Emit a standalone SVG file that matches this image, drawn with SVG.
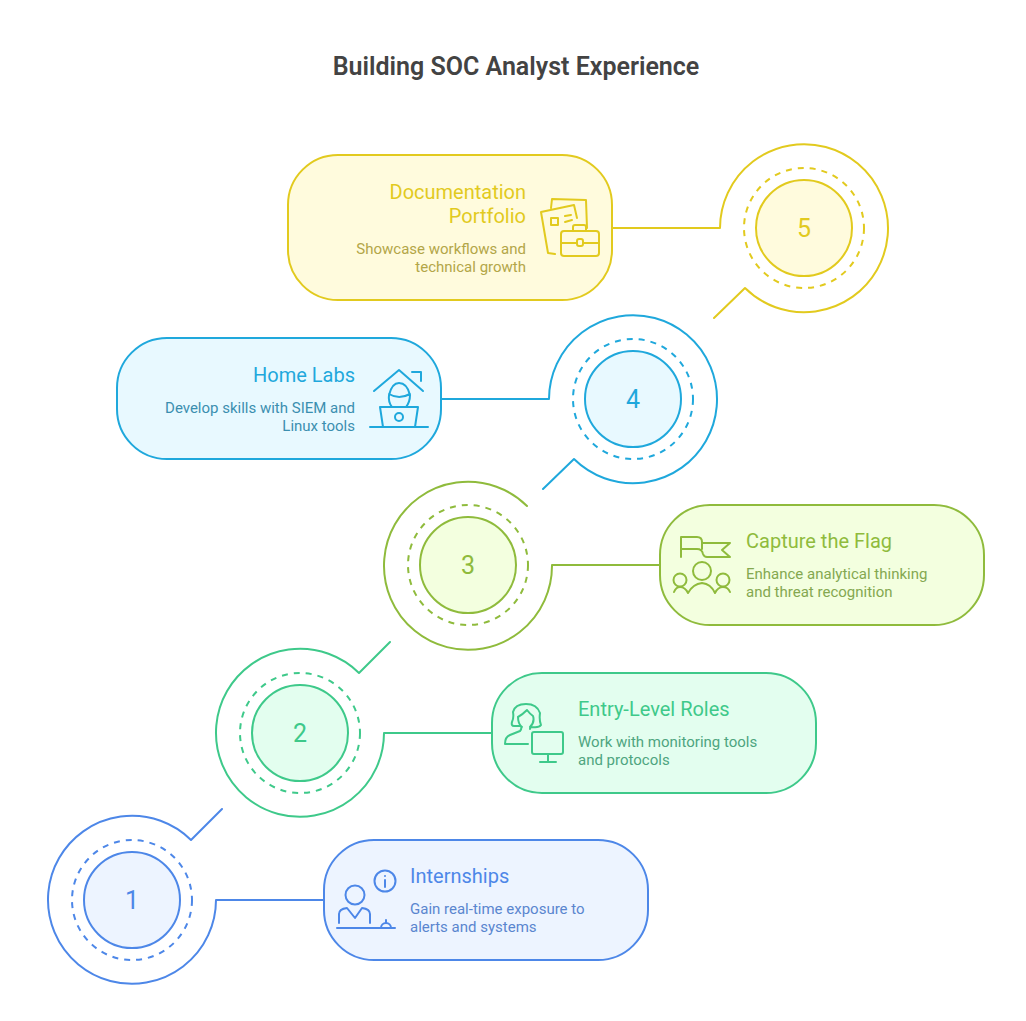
<svg xmlns="http://www.w3.org/2000/svg" width="1026" height="1021" viewBox="0 0 1026 1021">
<style>
text{font-family:Roboto,"Liberation Sans",sans-serif}
.t{font-size:25px;font-weight:600;fill:#434343;text-anchor:middle}
.h{font-size:20px}
.d{font-size:15px}
.n{font-size:25px;text-anchor:middle}
.e{text-anchor:end}
.s{fill:none;stroke-width:2;stroke-linecap:round;stroke-linejoin:round}
.c{fill:none;stroke-width:2;stroke-dasharray:6 6}
.blue{stroke:#4d87e8}.green{stroke:#3ec98a}.lime{stroke:#8fbb3c}.sky{stroke:#1fa8dc}.yel{stroke:#e2ca1e}
</style>
<rect width="1026" height="1021" fill="#fff"/>
<text class="t" x="516" y="75">Building SOC Analyst Experience</text>
<g id="connectors">
<path class="s blue" d="M324 900H216A84 84 0 1 1 191 840L222 809"/>
<path class="s green" d="M492 733H384A84 84 0 1 1 359 673L390 642"/>
<path class="s lime" d="M660 565H552A84 84 0 1 1 527 506"/>
<path class="s sky" d="M442 399H549A84 84 0 1 1 574 459L543 489"/>
<path class="s yel" d="M612 228H720A84 84 0 1 1 745 288L714 318"/>
</g>
<g id="step-1">
<circle class="c blue" cx="132" cy="900" r="60"/>
<circle cx="132" cy="900" r="48" fill="#edf4ff" stroke="#4d87e8" stroke-width="2"/>
<text class="n" x="132" y="909" fill="#4d87e8">1</text>
</g>
<g id="step-2">
<circle class="c green" cx="300" cy="733" r="60"/>
<circle cx="300" cy="733" r="48" fill="#e3feef" stroke="#3ec98a" stroke-width="2"/>
<text class="n" x="300" y="742" fill="#3ec98a">2</text>
</g>
<g id="step-3">
<circle class="c lime" cx="468" cy="565" r="60"/>
<circle cx="468" cy="565" r="48" fill="#f3ffdf" stroke="#8fbb3c" stroke-width="2"/>
<text class="n" x="468" y="574" fill="#8fbb3c">3</text>
</g>
<g id="step-4">
<circle class="c sky" cx="633" cy="399" r="60"/>
<circle cx="633" cy="399" r="48" fill="#e8f9ff" stroke="#1fa8dc" stroke-width="2"/>
<text class="n" x="633" y="408" fill="#1fa8dc">4</text>
</g>
<g id="step-5">
<circle class="c yel" cx="804" cy="228" r="60"/>
<circle cx="804" cy="228" r="48" fill="#fffbdd" stroke="#e2ca1e" stroke-width="2"/>
<text class="n" x="804" y="237" fill="#e2ca1e">5</text>
</g>
<g id="internships">
<rect x="324" y="840" width="324" height="120" rx="50" fill="#edf4ff" stroke="#4d87e8" stroke-width="2"/>
<text class="h" x="410" y="883" fill="#4d87e8">Internships</text>
<text class="d" x="410" y="914" fill="#5a86cf">Gain real-time exposure to</text>
<text class="d" x="410" y="932" fill="#5a86cf">alerts and systems</text>
<g class="s blue"><circle cx="355" cy="895" r="9.5"/><path d="M339 923V914Q339 909 347 908L355 918L362 908Q370 909 370 914V923M337 928H395M381 928A5 5 0 0 1 391 928M386 923V920"/><circle cx="385" cy="881" r="10.5"/><path d="M385 880V887M385 876V876"/></g>
</g>
<g id="entry-level-roles">
<rect x="492" y="673" width="324" height="120" rx="50" fill="#e3feef" stroke="#3ec98a" stroke-width="2"/>
<text class="h" x="578" y="716" fill="#3ec98a">Entry-Level Roles</text>
<text class="d" x="578" y="747" fill="#4ea57f">Work with monitoring tools</text>
<text class="d" x="578" y="765" fill="#4ea57f">and protocols</text>
<g class="s green"><rect x="532" y="732" width="31" height="22" rx="2"/><path d="M548 754V762M540 762H556M528 744H505Q505 737 510 735L520 731Q522 729 521 726H514Q511 726 512 722Q514 718 513 712Q515 704 526 704Q537 704 540 713Q539 720 541 725Q539 728 532 727Q530 727 530 729M518 717Q522 715 527 710Q530 714 533 716Q535 722 530 727M518 717Q518 724 522 727"/></g>
</g>
<g id="capture-the-flag">
<rect x="660" y="505" width="324" height="120" rx="50" fill="#f3ffdf" stroke="#8fbb3c" stroke-width="2"/>
<text class="h" x="746" y="548" fill="#8fbb3c">Capture the Flag</text>
<text class="d" x="746" y="579" fill="#84a850">Enhance analytical thinking</text>
<text class="d" x="746" y="597" fill="#84a850">and threat recognition</text>
<g class="s lime"><path d="M681 557V537H697Q702 537 702 542V549M681 549H697Q702 549 703 554Q704 557 707 557H730L722 550L730 543H702"/><circle cx="702" cy="571" r="9"/><circle cx="680" cy="580" r="6.5"/><circle cx="723" cy="580" r="6.5"/><path d="M674 592Q676 587 680 587Q685 587 688 593Q693 584 702 583Q711 584 715 593Q718 587 723 587Q728 587 730 592"/></g>
</g>
<g id="home-labs">
<rect x="117" y="338" width="324" height="121" rx="50" fill="#e8f9ff" stroke="#1fa8dc" stroke-width="2"/>
<text class="h e" x="355" y="382" fill="#1fa8dc">Home Labs</text>
<text class="d e" x="355" y="413" fill="#3b8fb0">Develop skills with SIEM and</text>
<text class="d e" x="355" y="431" fill="#3b8fb0">Linux tools</text>
<g class="s sky"><path d="M374 391L399 370L423 391M412 372H421V381M392 407Q388 402 389 395Q392 383 399 383Q407 383 410 395Q410 402 406 407M389 394Q399 400 410 394M380 407H418L415 427H383ZM370 427H428"/><circle cx="399" cy="417" r="4"/></g>
</g>
<g id="documentation-portfolio">
<rect x="288" y="155" width="324" height="145" rx="50" fill="#fffbdd" stroke="#e2ca1e" stroke-width="2"/>
<text class="h e" x="526" y="199" fill="#e2ca1e">Documentation</text>
<text class="h e" x="526" y="223" fill="#e2ca1e">Portfolio</text>
<text class="d e" x="526" y="254" fill="#b3a648">Showcase workflows and</text>
<text class="d e" x="526" y="272" fill="#b3a648">technical growth</text>
<g class="s yel"><path d="M551 208L552 199L586 200L587 228M577 218L574 205L541 212L548 253L555 254M551 218H558V225H551ZM565 216L571 215M565 222L572 220"/><rect x="561" y="231" width="38" height="25" rx="3"/><path d="M573 231V227Q573 225 575 225H584Q586 225 586 227V231M561 243H577M583 243H599"/><rect x="577" y="239" width="6" height="7" rx="2"/></g>
</g>
</svg>
